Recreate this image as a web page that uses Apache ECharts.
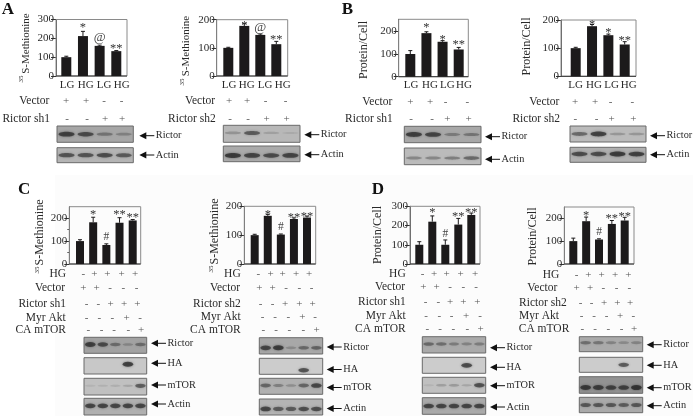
<!DOCTYPE html>
<html><head><meta charset="utf-8">
<style>html,body{margin:0;padding:0;background:#fff}#c{width:693px;height:416px;filter:blur(0.45px)}</style>
<script src="https://cdn.jsdelivr.net/npm/echarts@6/dist/echarts.min.js"></script>
</head><body><div id="c"></div>
<script>
// ---- values ----
const lane4 = ['LG','HG','LG','HG'];
const hgCats = ['1','2','3','4','5'];
const a1Values=[100,212,160,132], a1Errors=[5,25,4,3],  a1MarkAt=[null,280,203,168], a1Marks=['','*','@','**'];
const a2Values=[100,178,146,113], a2Errors=[2,8,3,10],  a2MarkAt=[null,193,173,142], a2Marks=['','*','@','**'];
const b1Values=[100,192,154,120], b1Errors=[15,6,5,9],  b1MarkAt=[null,232,180,157], b1Marks=['','*','*','**'];
const b2Values=[100,178,146,113], b2Errors=[3,6,4,10],  b2MarkAt=[null,196,168,140], b2Marks=['','*','*','**'];
const c1Values=[100,182,83,180,190],  c1Errors=[6,22,5,22,4],   c1MarkAt=[null,231,119,231,220], c1Marks=['','*','#','**','**'];
const c2Values=[100,167,102,156,161], c2Errors=[3,5,2,4,5],     c2MarkAt=[null,185,127,175,179], c2Marks=['','*','#','**','**'];
const d1Values=[100,220,100,205,255], d1Errors=[16,30,25,32,10],d1MarkAt=[null,286,156,269,286], d1Marks=['','*','#','**','**'];
const d2Values=[100,187,107,175,190], d2Errors=[13,18,3,15,14], d2MarkAt=[null,228,141,214,226], d2Marks=['','*','#','**','**'];
const vector4=['+','+','-','-'], sh4=['-','-','+','+'];
const hg5=['-','+','+','+','+'], vector5=['+','+','-','-','-'], sh5=['-','-','+','+','+'], myr5=['-','-','-','+','-'], ca5=['-','-','-','-','+'];
// blot band strengths, per lane
const a1Rictor=[.9,.8,.45,.35], a1Actin=[.75,.75,.8,.7];
const a2Rictor=[.3,.7,.2,.12], a2Actin=[.95,.85,.8,.85];
const b1Rictor=[.9,.85,.4,.45], b1Actin=[.4,.4,.45,.6];
const b2Rictor=[.6,.9,.3,.3], b2Actin=[.8,.8,.95,.9];
const c1Rictor=[.9,.8,.5,.3,.5], c1HA=[0,0,0,.95,0], c1mTOR=[.1,.12,.15,.2,.7], c1Actin=[.85,.85,.85,.85,.85];
const c2Rictor=[.85,.95,.3,.55,.6], c2HA=[0,0,0,.8,0], c2mTOR=[.6,.4,.3,.6,.85], c2Actin=[.85,.7,.7,.8,.8];
const d1Rictor=[.55,.5,.4,.35,.4], d1HA=[0,0,0,.85,0], d1mTOR=[.1,.25,.3,.2,.8], d1Actin=[.85,.85,.85,.85,.85];
const d2Rictor=[.5,.45,.35,.3,.35], d2HA=[0,0,0,.75,0], d2mTOR=[.95,.9,.85,.85,1], d2Actin=[.7,.7,.7,.65,.7];

// ---- layout ----
const SERIF='"Liberation Serif","Times New Roman",serif', INK='#2a2a2a';
const panels=[
 {v:a1Values,e:a1Errors,at:a1MarkAt,m:a1Marks,f:[56,127,19.5,76],max:300,c:[66.3,83,99.7,116.3],bw:10,name:'S-Methionine',sup:[21,79],nm:[26,43.5],
  laneX:[67,85.7,104,121.7],rows:[['Vector',vector4,101,49.3,[66,86,104,121.7]],['Rictor sh1',sh4,118.7,50,[67,87,105,122]]],
  blotX:[57,133.3],blots:[['Rictor',a1Rictor,126,142.3,'#a6a6a6',.5,135.7],['Actin',a1Actin,147.7,162.7,'#b4b4b4',.5,155]],arrowX:139.3},
 {v:a2Values,e:a2Errors,at:a2MarkAt,m:a2Marks,f:[216.7,287.7,19.7,76],max:200,c:[228.3,244.3,260.3,276.3],bw:10,name:'S-Methionine',sup:[182,82],nm:[186,46],
  laneX:[229,246.7,265,282.7],rows:[['Vector',vector4,101.3,215,[229,247,265.7,285.7]],['Rictor sh2',sh4,118.7,215.7,[230,248,266.7,286.7]]],
  blotX:[223.3,300],blots:[['Rictor',a2Rictor,125.3,142.3,'#b8b8b8',.45,134.7],['Actin',a2Actin,146,161.7,'#aaaaaa',.6,154.7]],arrowX:304.3},
 {v:b1Values,e:b1Errors,at:b1MarkAt,m:b1Marks,f:[398.7,468.3,19.3,76.7],max:253,c:[410.3,426.3,443,458.7],bw:10,name:'Protein/Cell',nm:[364,50],
  laneX:[411,430,447.3,464],rows:[['Vector',vector4,101.7,392.3,[410.3,430,445.7,467.3]],['Rictor sh1',sh4,118.7,392.7,[411,432,447.3,468.7]]],
  blotX:[404.3,481],blots:[['Rictor',b1Rictor,126.3,142.7,'#a8a8a8',.5,136.7],['Actin',b1Actin,148,164.7,'#bbbbbb',.6,159.3]],arrowX:485},
 {v:b2Values,e:b2Errors,at:b2MarkAt,m:b2Marks,f:[561,636,20,76.3],max:200,c:[575.7,592,608.3,624.7],bw:10,name:'Protein/Cell',nm:[527,46.5],
  laneX:[575.7,594,611.7,628.7],rows:[['Vector',vector4,101.7,559.3,[575,595,610.7,632.3]],['Rictor sh2',sh4,119,560,[575.3,596.7,611.7,633.3]]],
  blotX:[570,646],blots:[['Rictor',b2Rictor,126,142,'#bbbbbb',.5,135.7],['Actin',b2Actin,147.3,162.3,'#b0b0b0',.45,154.7]],arrowX:650},
 {v:c1Values,e:c1Errors,at:c1MarkAt,m:c1Marks,f:[69.3,140.7,206.7,264],max:250,c:[80,93.3,106.3,119.3,132.7],bw:8,name:'S-Methionine',sup:[37,270],nm:[40,232.5],minor:true,
  rows:[['HG',hg5,274.3,66,[83.3,94.3,107.3,121.7,135]],['Vector',vector5,288,65,[83.3,96.7,110,123.3,136.7]],['Rictor sh1',sh5,304,66,[86.7,98.3,110.7,124,137.3]],['Myr Akt',myr5,317.7,65.7,[86.7,99.3,112.3,126.7,140]],['CA mTOR',ca5,330.3,66,[88.3,101.7,114,128.3,141]]],
  blotX:[84,146.7],blots:[['Rictor',c1Rictor,337.3,353.3,'#a2a2a2',.45,343.3],['HA',c1HA,357.7,374,'#c8c8c8',.4,363.3],['mTOR',c1mTOR,378.3,395,'#c0c0c0',.45,385],['Actin',c1Actin,398.3,415,'#b0b0b0',.45,404]],arrowX:151},
 {v:c2Values,e:c2Errors,at:c2MarkAt,m:c2Marks,f:[244.3,315.7,206.3,264],max:200,c:[254.7,267.7,281,293.7,307],bw:8,name:'S-Methionine',sup:[210.7,269],nm:[215,231.5],
  rows:[['HG',hg5,274,240.7,[258.3,270.7,282.7,296,309]],['Vector',vector5,287.7,240,[259.3,272.7,286,299.3,311.7]],['Rictor sh2',sh5,303.7,240.7,[260.7,272.7,285,299.3,312.7]],['Myr Akt',myr5,317.3,240.7,[262.7,275,288.3,302.3,315]],['CA mTOR',ca5,330,240.7,[263.3,276,289.3,303.3,316.7]]],
  blotX:[259.3,322.7],blots:[['Rictor',c2Rictor,337.7,354,'#a8a8a8',.62,347],['HA',c2HA,358.3,374.3,'#cccccc',.75,369.5],['mTOR',c2mTOR,378.3,394.3,'#b0b0b0',.45,387.5],['Actin',c2Actin,399,415,'#b4b4b4',.62,408.5]],arrowX:326.7},
 {v:d1Values,e:d1Errors,at:d1MarkAt,m:d1Marks,f:[410,480,206.3,264],max:300,c:[419.3,432.3,445.3,458.3,471.3],bw:8,name:'Protein/Cell',nm:[377.7,235],
  rows:[['HG',hg5,273.7,405.7,[422.7,434,446.7,460.7,475]],['Vector',vector5,286.7,405,[423.3,436.7,450,463.3,476]],['Rictor sh1',sh5,302,405.7,[425.7,438.3,450,463.3,477.3]],['Myr Akt',myr5,315.7,405.7,[426,439.3,451.7,466,480]],['CA mTOR',ca5,328.7,405.7,[427.3,440,453.3,467.3,480.7]]],
  blotX:[422.3,485.7],blots:[['Rictor',d1Rictor,336.7,353,'#aaaaaa',.45,347.7],['HA',d1HA,357.3,373.3,'#cccccc',.5,367.3],['mTOR',d1mTOR,377.3,393.3,'#c0c0c0',.5,385.7],['Actin',d1Actin,397.7,414.3,'#aaaaaa',.5,407]],arrowX:490},
 {v:d2Values,e:d2Errors,at:d2MarkAt,m:d2Marks,f:[564.3,634,207,264],max:249,c:[573.3,586.3,599.3,612,624.7],bw:8,name:'Protein/Cell',nm:[532.7,236.5],
  rows:[['HG',hg5,274.7,559.3,[576.7,588.3,601.7,615,628.3]],['Vector',vector5,287.7,557.3,[576.7,590,603.3,616.7,629.3]],['Rictor sh2',sh5,303,566.7,[580.7,591.7,604,617.3,630]],['Myr Akt',myr5,316.3,559,[581.7,594,606.7,620,633.3]],['CA mTOR',ca5,329.3,569.3,[582.3,595,608.3,621.7,634]]],
  blotX:[579.3,642.7],blots:[['Rictor',d2Rictor,336.7,351.7,'#aaaaaa',.4,344.7],['HA',d2HA,357.3,372.3,'#cccccc',.5,365.3],['mTOR',d2mTOR,376.7,393.3,'#929292',.65,387.7],['Actin',d2Actin,397.3,412.7,'#aaaaaa',.5,405.7]],arrowX:646.7}
];
const letters=[['A',1.7,10],['B',341.7,10],['C',18,190],['D',371.7,190]];

// ---- build ----
const grids=[],xAxes=[],yAxes=[],series=[],gfx=[];
const txt=(t,x,y,o={})=>gfx.push({type:'text',x,y,rotation:o.rot||0,z:5,style:{text:t,x:0,y:0,align:o.align||'center',verticalAlign:'middle',fontFamily:SERIF,fontSize:o.size||11.5,fontWeight:o.weight||'normal',fill:o.fill||INK}});
const line=(x1,y1,x2,y2,stroke,w=1)=>gfx.push({type:'line',z:3,shape:{x1,y1,x2,y2},style:{stroke,lineWidth:w}});

gfx.push({type:'rect',z:0,shape:{x:55,y:175,width:638,height:241},style:{fill:'#fcfcfc'}});
letters.forEach(l=>txt(l[0],l[1],l[2],{align:'left',size:17,weight:'bold',fill:'#111'}));

panels.forEach((p,i)=>{
  const [L,R,T,B]=p.f, n=p.v.length, sp=(p.c[n-1]-p.c[0])/(n-1), dl=p.c[0]-sp/2;
  grids.push({left:dl,top:T,width:sp*n,height:B-T});
  xAxes.push({gridIndex:i,type:'category',data:n===4?lane4:hgCats,axisLine:{show:false},axisTick:{show:false},axisLabel:{show:false}});
  const step=100, ticks=[];
  for(let t=0;t<=p.max;t+=step) ticks.push(t);
  yAxes.push({gridIndex:i,type:'value',min:0,max:p.max,interval:step,offset:dl-L,splitLine:{show:false},
    minorTick:p.minor?{show:true,splitNumber:2,length:2,lineStyle:{color:'#555'}}:{show:false},
    axisLine:{show:true,lineStyle:{color:'#555',width:1}},
    axisTick:{show:true,length:5,customValues:ticks,lineStyle:{color:'#333',width:1}},
    axisLabel:{margin:2,customValues:ticks,fontFamily:SERIF,fontSize:11,color:INK}});
  series.push({type:'bar',xAxisIndex:i,yAxisIndex:i,data:p.v,barWidth:p.bw,itemStyle:{color:'#1c1a1b'},animation:false,z:4});
  series.push({type:'custom',xAxisIndex:i,yAxisIndex:i,animation:false,silent:true,z:5,encode:{x:0,y:1},
    data:p.v.map((v,k)=>[k,v,p.e[k]]),
    renderItem:(pa,api)=>{
      const a=api.coord([api.value(0),api.value(1)]),b=api.coord([api.value(0),api.value(1)+api.value(2)]);
      const st={stroke:'#1c1a1b',lineWidth:1};
      return {type:'group',children:[{type:'line',shape:{x1:a[0],y1:a[1],x2:a[0],y2:b[1]},style:st},{type:'line',shape:{x1:a[0]-2,y1:b[1],x2:a[0]+2,y2:b[1]},style:st}]};
    }});
  series.push({type:'custom',xAxisIndex:i,yAxisIndex:i,animation:false,silent:true,z:6,encode:{x:0,y:1},clip:false,
    data:p.at.map((y,k)=>[k,y,p.m[k]]).filter(d=>d[1]!==null),
    renderItem:(pa,api)=>{
      const s=api.value(2), c=api.coord([api.value(0),api.value(1)]), star=s.indexOf('*')>=0;
      return {type:'text',style:{text:s,x:c[0],y:c[1]+(star?4:0),align:'center',verticalAlign:'middle',fontFamily:SERIF,fontSize:star?12.5:(s==='@'?13:11.5),fill:s==='@'||s==='#'?'#444':'#333'}};
    }});
  // frame
  gfx.push({type:'rect',z:2,shape:{x:L,y:T,width:R-L,height:B-T},style:{fill:'none',stroke:'#8a8a8a',lineWidth:1}});
  line(L,B,R,B,'#333');
  // y title
  if(p.sup) txt('35',p.sup[0],p.sup[1],{rot:Math.PI/2,size:7});
  txt(p.name,p.nm[0],p.nm[1],{rot:Math.PI/2,size:p.name==='S-Methionine'&&i<2?11:12});
  // lane labels
  if(p.laneX) p.laneX.forEach((x,k)=>txt(lane4[k],x,85.3,{size:11}));
  // sign rows
  p.rows.forEach(r=>{
    txt(r[0],r[3],r[2],{align:'right'});
    r[1].forEach((s,k)=>txt(s,r[4][k],r[2],{size:11,fill:'#555'}));
  });
  // blots
  const [bl,br]=p.blotX, lw=(br-bl)/n;
  p.blots.forEach(bb=>{
    const [nm,str,y0,y1,bg,yf,ay]=bb;
    gfx.push({type:'rect',z:2,shape:{x:bl,y:y0,width:br-bl,height:y1-y0},style:{fill:bg,stroke:'#6a6a6a',lineWidth:1}});
    str.forEach((s,k)=>{
      if(s<=0) return;
      const col='rgba(35,35,35,'+(s*.75).toFixed(2)+')';
      gfx.push({type:'ellipse',z:3,shape:{cx:bl+lw*(k+.5),cy:y0+(y1-y0)*yf,rx:lw*.42,ry:.8+s*1.8},style:{fill:col,shadowBlur:2.5,shadowColor:col}});
    });
    const ax=p.arrowX;
    gfx.push({type:'polygon',z:4,shape:{points:[[ax,ay],[ax+7,ay-3.5],[ax+7,ay+3.5]]},style:{fill:'#111'}});
    line(ax+6,ay,ax+15,ay,'#111',1);
    txt(nm,ax+16.5,ay,{align:'left',size:10.3});
  });
});

const chart=echarts.init(document.getElementById('c'),null,{renderer:'canvas'});
chart.setOption({animation:false,backgroundColor:'#ffffff',grid:grids,xAxis:xAxes,yAxis:yAxes,series,graphic:{elements:gfx}});
</script></body></html>
